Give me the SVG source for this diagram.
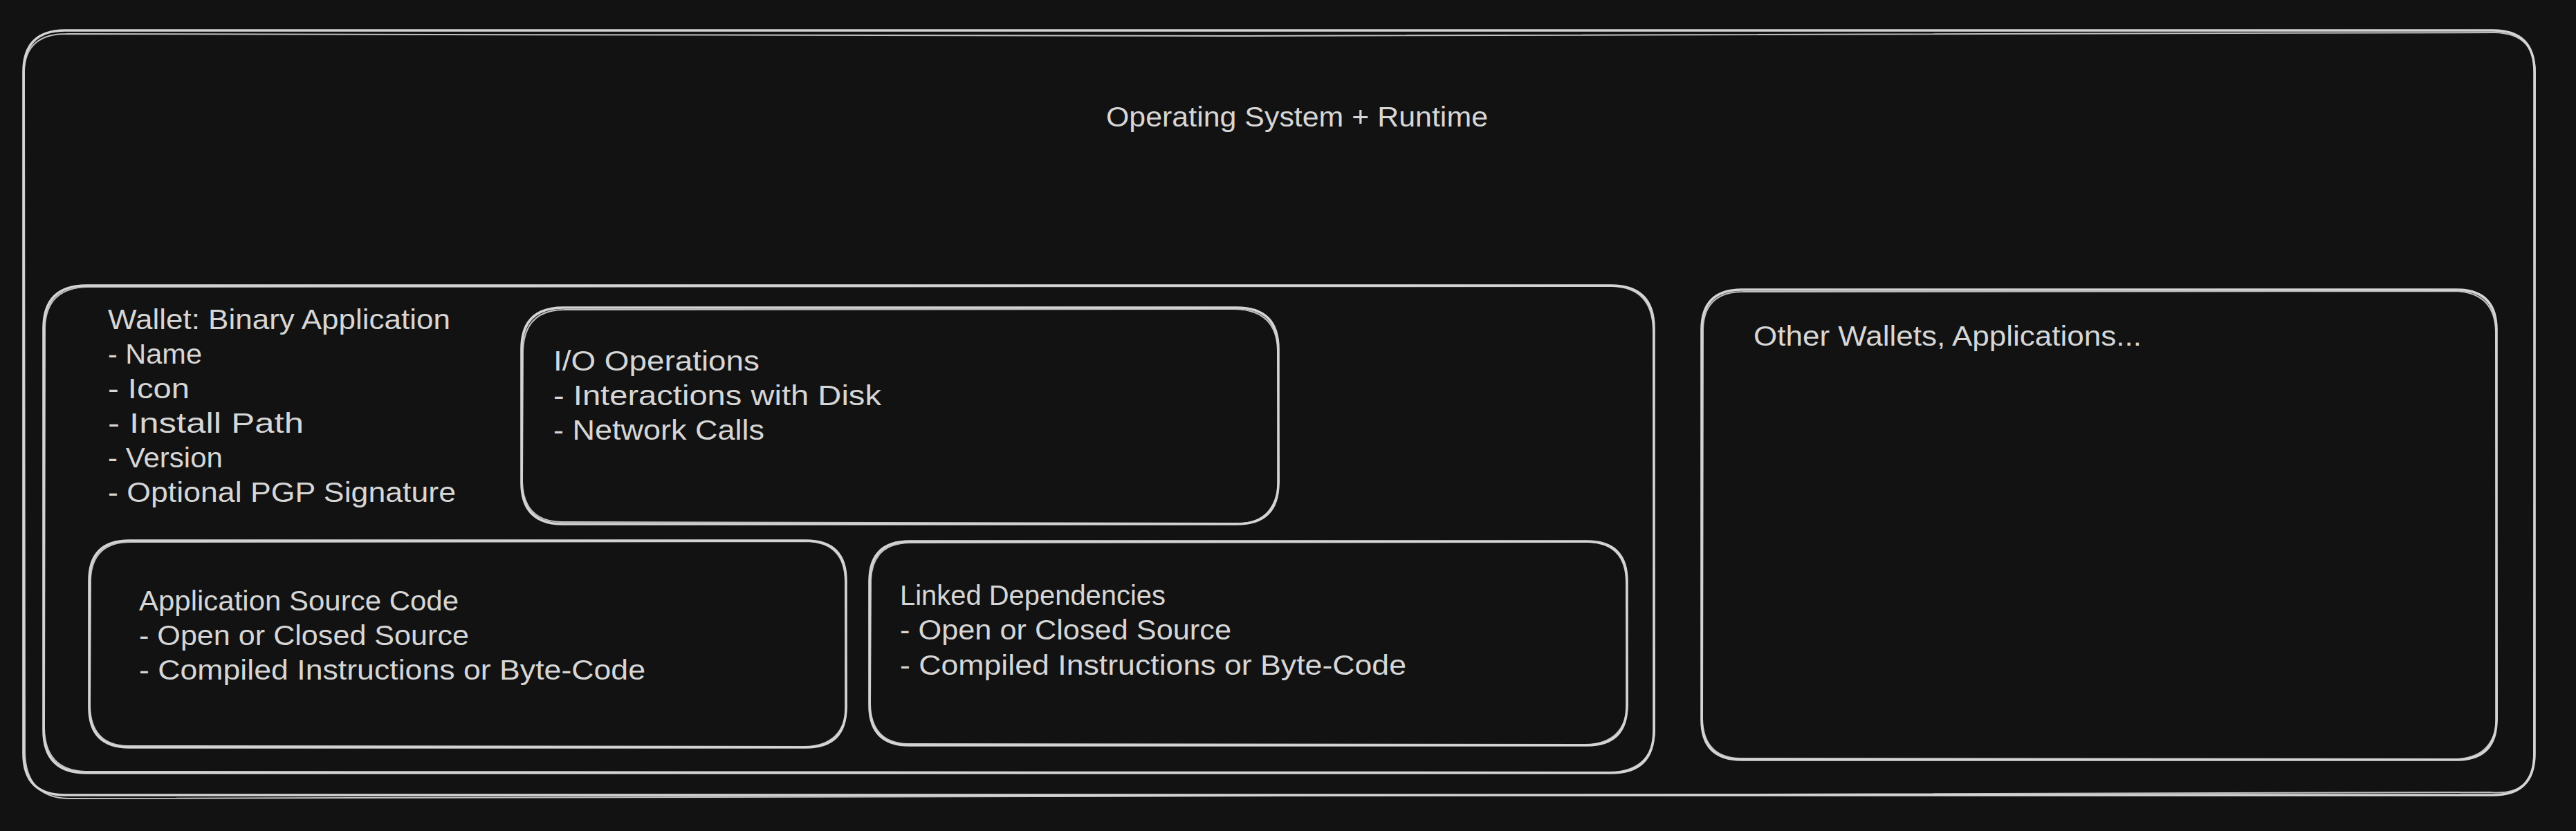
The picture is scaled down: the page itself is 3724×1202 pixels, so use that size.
<svg xmlns="http://www.w3.org/2000/svg" width="3724" height="1202" viewBox="0 0 3724 1202">
<style>
.bg{fill:#121212}
.s1{fill:none;stroke:#d4d4d4;stroke-width:3.6;stroke-linecap:round;stroke-linejoin:round}
.s2{fill:none;stroke:#d4d4d4;stroke-width:2;stroke-linecap:round;stroke-linejoin:round;opacity:0.9}
text{font-family:"Liberation Sans","DejaVu Sans",sans-serif;font-size:41px;fill:#d6d6d6}
</style>
<rect class="bg" x="0" y="0" width="3724" height="1202"/>
<g id="os-runtime">
<path class="s1" d="M94,44 L3604,44 Q3664,44 3664,104 L3664,1090 Q3664,1150 3604,1150 L94,1150 Q34,1150 34,1090 L34,104 Q34,44 94,44 Z"/>
<path class="s2" d="M96,49 L1800,52 L3606,47 Q3666,48 3665,108 L3663,1094 Q3662,1152 3600,1146 L1500,1152 L98,1155 Q37,1153 36,1088 L35,102 Q37,49 96,49"/>
<text x="1599" y="183" textLength="552" lengthAdjust="spacingAndGlyphs">Operating System + Runtime</text>
</g>
<g id="wallet">
<path class="s1" d="M125,413 L2329,413 Q2391,413 2391,475 L2391,1056 Q2391,1118 2329,1118 L125,1118 Q63,1118 63,1056 L63,475 Q63,413 125,413 Z"/>
<path class="s2" d="M127,415 L2331,414 Q2389,416 2390,478 L2392,1058 Q2388,1116 2327,1117 L123,1116 Q65,1114 64,1053 L65,473 Q67,416 127,415"/>
<text x="156" y="476" textLength="495" lengthAdjust="spacingAndGlyphs">Wallet: Binary Application</text>
<text x="156" y="526" textLength="136" lengthAdjust="spacingAndGlyphs">- Name</text>
<text x="156" y="576" textLength="118" lengthAdjust="spacingAndGlyphs">- Icon</text>
<text x="156" y="626" textLength="283" lengthAdjust="spacingAndGlyphs">- Install Path</text>
<text x="156" y="676" textLength="166" lengthAdjust="spacingAndGlyphs">- Version</text>
<text x="156" y="726" textLength="503" lengthAdjust="spacingAndGlyphs">- Optional PGP Signature</text>
</g>
<g id="io-operations">
<path class="s1" d="M814,445 L1788,445 Q1848,445 1848,505 L1848,698 Q1848,758 1788,758 L814,758 Q754,758 754,698 L754,505 Q754,445 814,445 Z"/>
<path class="s2" d="M816,448 L1786,447 Q1846,449 1847,507 L1849,696 Q1844,756 1792,757 L812,755 Q756,754 755,696 L756,507 Q758,448 816,448"/>
<text x="800" y="536" textLength="298" lengthAdjust="spacingAndGlyphs">I/O Operations</text>
<text x="800" y="586" textLength="474" lengthAdjust="spacingAndGlyphs">- Interactions with Disk</text>
<text x="800" y="636" textLength="305" lengthAdjust="spacingAndGlyphs">- Network Calls</text>
</g>
<g id="app-source">
<path class="s1" d="M187,782 L1165,782 Q1223,782 1223,840 L1223,1023 Q1223,1081 1165,1081 L187,1081 Q129,1081 129,1023 L129,840 Q129,782 187,782 Z"/>
<path class="s2" d="M189,784 L1167,783 Q1222,785 1222,842 L1224,1021 Q1221,1079 1163,1080 L185,1079 Q131,1078 130,1021 L131,838 Q133,784 189,784"/>
<text x="201" y="883" textLength="462" lengthAdjust="spacingAndGlyphs">Application Source Code</text>
<text x="201" y="933" textLength="477" lengthAdjust="spacingAndGlyphs">- Open or Closed Source</text>
<text x="201" y="983" textLength="732" lengthAdjust="spacingAndGlyphs">- Compiled Instructions or Byte-Code</text>
</g>
<g id="linked-deps">
<path class="s1" d="M1315,783 L2294,783 Q2352,783 2352,841 L2352,1020 Q2352,1078 2294,1078 L1315,1078 Q1257,1078 1257,1020 L1257,841 Q1257,783 1315,783 Z"/>
<path class="s2" d="M1317,785 L2296,784 Q2351,786 2351,843 L2353,1018 Q2350,1076 2292,1077 L1313,1076 Q1259,1075 1258,1018 L1259,839 Q1261,785 1317,785"/>
<text x="1301" y="875" textLength="384" lengthAdjust="spacingAndGlyphs">Linked Dependencies</text>
<text x="1301" y="925" textLength="479" lengthAdjust="spacingAndGlyphs">- Open or Closed Source</text>
<text x="1301" y="976" textLength="732" lengthAdjust="spacingAndGlyphs">- Compiled Instructions or Byte-Code</text>
</g>
<g id="other-wallets">
<path class="s1" d="M2518,419 L3551,419 Q3609,419 3609,477 L3609,1041 Q3609,1099 3551,1099 L2518,1099 Q2460,1099 2460,1041 L2460,477 Q2460,419 2518,419 Z"/>
<path class="s2" d="M2520,422 L3549,421 Q3607,423 3608,480 L3610,1039 Q3606,1097 3549,1098 L2516,1097 Q2462,1096 2461,1039 L2462,475 Q2464,422 2520,422"/>
<text x="2535" y="500" textLength="561" lengthAdjust="spacingAndGlyphs">Other Wallets, Applications...</text>
</g>
<g id="connectors"></g>
</svg>
